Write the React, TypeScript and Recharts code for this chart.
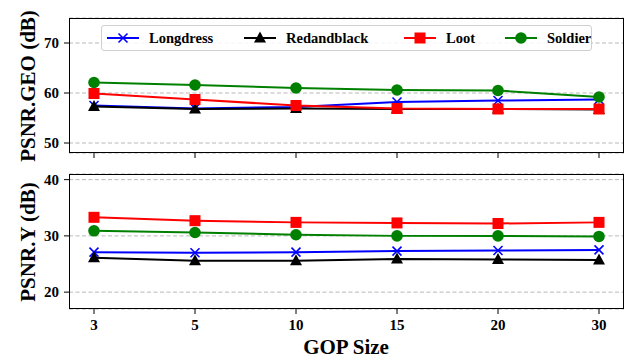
import React from 'react';
import { LineChart, Line, XAxis, YAxis, CartesianGrid, Legend } from 'recharts';

const gopSizes = ['3', '5', '10', '15', '20', '30'];
const seriesNames = ['Longdress', 'Redandblack', 'Loot', 'Soldier'];
const geoLongdress = [57.5, 56.9, 57.2, 58.2, 58.5, 58.7];
const geoRedandblack = [57.3, 56.8, 56.9, 56.8, 56.8, 56.7];
const geoLoot = [59.9, 58.7, 57.5, 56.9, 56.8, 56.8];
const geoSoldier = [62.1, 61.6, 61.0, 60.6, 60.5, 59.2];
const yLongdress = [27.1, 27.0, 27.1, 27.3, 27.4, 27.5];
const yRedandblack = [26.1, 25.6, 25.6, 25.9, 25.8, 25.7];
const yLoot = [33.3, 32.7, 32.4, 32.3, 32.2, 32.4];
const ySoldier = [30.9, 30.6, 30.2, 30.0, 30.0, 29.9];
const geoTicks = [50, 60, 70];
const yTicks = [20, 30, 40];

const colors: Record<string, string> = { Longdress: '#0000ff', Redandblack: '#000000', Loot: '#ff0000', Soldier: '#008000' };
const markers: Record<string, string> = { Longdress: 'x', Redandblack: 'tri', Loot: 'sq', Soldier: 'circ' };

const geoData = gopSizes.map((g, i) => ({ gop: g, Longdress: geoLongdress[i], Redandblack: geoRedandblack[i], Loot: geoLoot[i], Soldier: geoSoldier[i] }));
const yData = gopSizes.map((g, i) => ({ gop: g, Longdress: yLongdress[i], Redandblack: yRedandblack[i], Loot: yLoot[i], Soldier: ySoldier[i] }));

const FONT = "'Liberation Serif', 'Times New Roman', serif";

function Marker({ type, cx, cy, color }: { type: string; cx: number; cy: number; color: string }) {
  if (type === 'x') {
    const s = 4.5;
    return (
      <g>
        <line x1={cx - s} y1={cy - s} x2={cx + s} y2={cy + s} stroke={color} strokeWidth={1.6} />
        <line x1={cx - s} y1={cy + s} x2={cx + s} y2={cy - s} stroke={color} strokeWidth={1.6} />
      </g>
    );
  }
  if (type === 'tri') {
    return <polygon points={`${cx},${cy - 6.5} ${cx - 6},${cy + 4.5} ${cx + 6},${cy + 4.5}`} fill={color} />;
  }
  if (type === 'sq') {
    return <rect x={cx - 5.5} y={cy - 5.5} width={11} height={11} fill={color} />;
  }
  return <circle cx={cx} cy={cy} r={5.8} fill={color} />;
}

function makeDot(name: string) {
  return (props: any) => {
    const { cx, cy, index } = props;
    if (cx == null || cy == null) return <g key={`${name}-${index}`} />;
    return <g key={`${name}-${index}`}><Marker type={markers[name]} cx={cx} cy={cy} color={colors[name]} /></g>;
  };
}

const legendPositions = [0, 137, 297, 398];

function LegendBox() {
  return (
    <div style={{ position: 'relative', width: 491, height: 26, border: '1px solid #d0d0d0', borderRadius: 3, background: 'rgba(255,255,255,0.85)', boxSizing: 'border-box', fontFamily: FONT, fontWeight: 'bold', fontSize: 14.5 }}>
      {seriesNames.map((n, i) => (
        <div key={n} style={{ position: 'absolute', left: 4 + legendPositions[i], top: 0, height: 24, display: 'flex', alignItems: 'center' }}>
          <svg width={34} height={20} style={{ display: 'block' }}>
            <line x1={1} y1={10} x2={33} y2={10} stroke={colors[n]} strokeWidth={2} />
            <Marker type={markers[n]} cx={17} cy={10} color={colors[n]} />
          </svg>
          <span style={{ marginLeft: 9, color: '#000', fontFamily: FONT }}>{n}</span>
        </div>
      ))}
    </div>
  );
}

function YTick(props: any) {
  const { x, y, payload } = props;
  return (
    <text x={x + 1} y={y} dy={5} textAnchor="end" fontFamily={FONT} fontWeight="bold" fontSize={15} fill="#000">
      {payload.value}
    </text>
  );
}

function XTick(props: any) {
  const { x, y, payload } = props;
  return (
    <text x={x} y={y} dy={11} textAnchor="middle" fontFamily={FONT} fontWeight="bold" fontSize={15} fill="#000">
      {payload.value}
    </text>
  );
}

function renderLines() {
  return seriesNames.map((n) => (
    <Line key={n} type="linear" dataKey={n} stroke={colors[n]} strokeWidth={2} dot={makeDot(n)} activeDot={false} isAnimationActive={false} />
  ));
}

export default function App() {
  return (
    <div style={{ position: 'absolute', left: 0, top: 0, width: 628, height: 358, background: '#fff', fontFamily: FONT }}>
      <div style={{ position: 'absolute', left: 0, top: 0 }}>
        <LineChart width={628} height={170} data={geoData} margin={{ top: 18, right: 4, left: 29, bottom: 0 }} style={{ fontFamily: FONT }}>
          <CartesianGrid vertical={false} stroke="#b8b8b8" strokeDasharray="4 2.5" />
          <XAxis dataKey="gop" height={17} padding={{ left: 25, right: 25 }} tick={() => <g />} tickSize={5} axisLine={false} tickLine={{ stroke: '#000' }} />
          <YAxis width={40} domain={[48, 75]} ticks={geoTicks} type="number" allowDataOverflow tickSize={5} tickMargin={6} tick={<YTick />} axisLine={false} tickLine={{ stroke: '#000' }} />
          {renderLines()}
          <Legend layout="vertical" verticalAlign="middle" align="center" content={() => <LegendBox />} wrapperStyle={{ left: 101, top: 25, width: 491, height: 26 }} />
        </LineChart>
      </div>
      <div style={{ position: 'absolute', left: 0, top: 160 }}>
        <LineChart width={628} height={198} data={yData} margin={{ top: 14, right: 4, left: 29, bottom: 0 }} style={{ fontFamily: FONT }}>
          <CartesianGrid vertical={false} stroke="#b8b8b8" strokeDasharray="4 2.5" />
          <XAxis dataKey="gop" height={49} padding={{ left: 25, right: 25 }} tickSize={5} tickMargin={5} tick={<XTick />} axisLine={false} tickLine={{ stroke: '#000' }} />
          <YAxis width={40} domain={[17, 41]} ticks={yTicks} type="number" allowDataOverflow tickSize={5} tickMargin={6} tick={<YTick />} axisLine={false} tickLine={{ stroke: '#000' }} />
          {renderLines()}
        </LineChart>
      </div>
      <div style={{ position: 'absolute', left: 69, top: 18, width: 555, height: 135, border: '1.3px solid #000', boxSizing: 'border-box', pointerEvents: 'none' }} />
      <div style={{ position: 'absolute', left: 69, top: 174, width: 555, height: 135, border: '1.3px solid #000', boxSizing: 'border-box', pointerEvents: 'none' }} />
      <div style={{ position: 'absolute', left: 28, top: 86, transform: 'translate(-50%, -50%) rotate(-90deg)', whiteSpace: 'nowrap', fontWeight: 'bold', fontSize: 21, color: '#000' }}>PSNR.GEO (dB)</div>
      <div style={{ position: 'absolute', left: 28, top: 242, transform: 'translate(-50%, -50%) rotate(-90deg)', whiteSpace: 'nowrap', fontWeight: 'bold', fontSize: 21, color: '#000' }}>PSNR.Y (dB)</div>
      <div style={{ position: 'absolute', left: 346, top: 347, transform: 'translate(-50%, -50%)', whiteSpace: 'nowrap', fontWeight: 'bold', fontSize: 21, color: '#000' }}>GOP Size</div>
    </div>
  );
}
